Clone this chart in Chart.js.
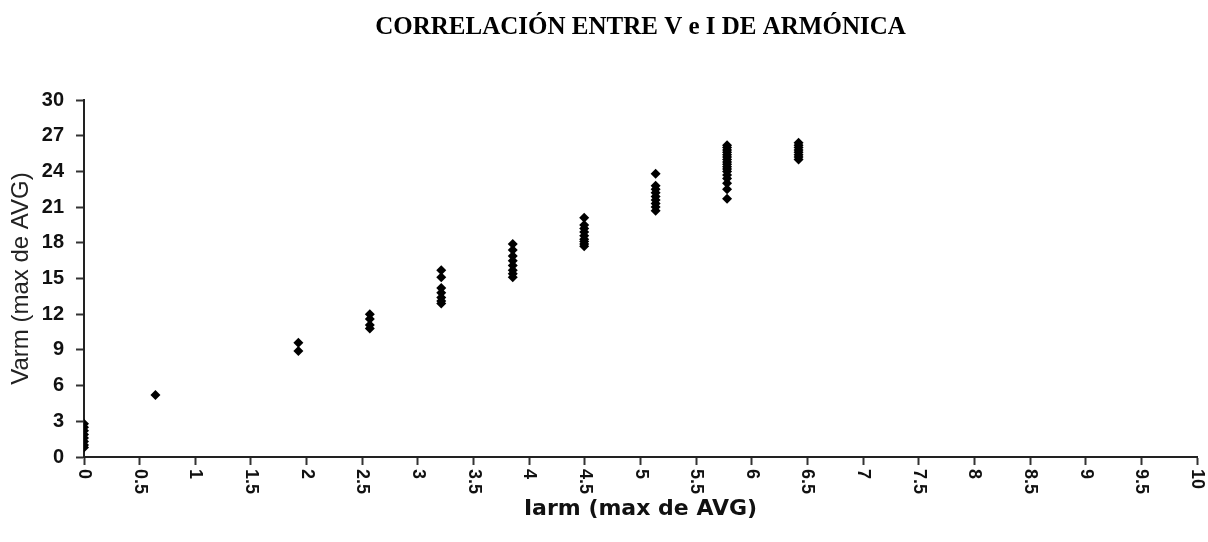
<!DOCTYPE html>
<html>
<head>
<meta charset="utf-8">
<script src="https://cdn.jsdelivr.net/npm/chart.js@4/dist/chart.umd.min.js"></script>
<style>
html,body{margin:0;padding:0;background:#fff;}
#wrap{width:1208px;height:542px;}
</style>
</head>
<body>
<div id="wrap"><canvas id="c" width="1208" height="542"></canvas></div>
<script>
// Iarm levels (x) and the Varm readings measured at each level (y)
const iarmLevels = [0, 0.642, 1.926, 2.568, 3.21, 3.852, 4.494, 5.136, 5.778, 6.42];
const varm0   = [0.8, 1.0, 1.3, 1.6, 1.9, 2.2, 2.5, 2.8];
const varm064 = [5.2];
const varm193 = [9.6, 8.9];
const varm257 = [12.0, 11.6, 11.1, 10.8];
const varm321 = [15.7, 15.1, 14.2, 13.8, 13.4, 13.1, 12.9];
const varm385 = [17.9, 17.4, 16.9, 16.5, 16.1, 15.7, 15.4, 15.1];
const varm449 = [20.1, 19.5, 19.2, 18.9, 18.6, 18.3, 18.1, 17.9, 17.7];
const varm514 = [23.8, 22.8, 22.5, 22.2, 21.9, 21.6, 21.3, 21.0, 20.7];
const varm578 = [26.2, 26.0, 25.8, 25.6, 25.4, 25.2, 25.0, 24.8, 24.6, 24.4, 24.2, 24.0, 23.7, 23.4, 23.0, 22.5, 21.7];
const varm642 = [26.4, 26.2, 26.0, 25.8, 25.6, 25.4, 25.2, 25.0];
const xTickLabels = ['0','0.5','1','1.5','2','2.5','3','3.5','4','4.5','5','5.5','6','6.5','7','7.5','8','8.5','9','9.5','10'];
const yTickValues = [0,3,6,9,12,15,18,21,24,27,30];

const varmColumns = [varm0, varm064, varm193, varm257, varm321, varm385, varm449, varm514, varm578, varm642];
const points = [];
varmColumns.forEach((col, i) => col.forEach(v => points.push({x: iarmLevels[i], y: v})));

const xLabelPlugin = {
  id: 'xLabels',
  afterDraw(chart) {
    const ctx = chart.ctx;
    const xs = chart.scales.x;
    const base = chart.chartArea.bottom;
    ctx.save();
    ctx.font = 'bold 18px "Liberation Sans", Arial, sans-serif';
    ctx.fillStyle = '#111';
    ctx.textAlign = 'left';
    ctx.textBaseline = 'middle';
    xTickLabels.forEach((lab, i) => {
      const px = xs.getPixelForValue(i * 0.5);
      ctx.save();
      ctx.translate(px, base + 12);
      ctx.rotate(Math.PI / 2);
      ctx.fillText(lab, 0, 0);
      ctx.restore();
    });
    ctx.restore();
  }
};

new Chart(document.getElementById('c'), {
  type: 'scatter',
  data: {
    datasets: [{
      data: points,
      pointStyle: 'rectRot',
      pointRadius: 5,
      pointHoverRadius: 5,
      backgroundColor: '#000',
      borderColor: '#000',
      borderWidth: 0
    }]
  },
  options: {
    responsive: false,
    animation: false,
    devicePixelRatio: 1,
    layout: { padding: { left: 0, right: 11, top: 0, bottom: 0 } },
    plugins: {
      legend: { display: false },
      tooltip: { enabled: false },
      title: {
        display: true,
        fullSize: false,
        text: 'CORRELACIÓN ENTRE V e I DE ARMÓNICA',
        color: '#000',
        font: { family: '"Liberation Serif", "Times New Roman", serif', size: 25, weight: 'bold' },
        padding: { top: 13, bottom: 57 }
      }
    },
    scales: {
      x: {
        type: 'linear',
        min: 0, max: 10,
        ticks: { display: false, stepSize: 0.5 },
        grid: { display: true, drawOnChartArea: false, drawTicks: true, tickLength: 8, tickWidth: 2, tickColor: '#333' },
        border: { display: true, color: '#222', width: 2 },
        title: {
          display: true,
          text: 'Iarm (max de AVG)',
          color: '#111',
          font: { family: '"DejaVu Sans", Verdana, sans-serif', size: 22, weight: 'bold' },
          padding: { top: 0, bottom: 20 }
        },
        afterFit(s) { s.height = 85; }
      },
      y: {
        type: 'linear',
        min: 0, max: 30,
        afterBuildTicks(s) { s.ticks = yTickValues.map(v => ({value: v})); },
        ticks: {
          color: '#111',
          padding: 12,
          font: { family: '"Liberation Sans", Arial, sans-serif', size: 20, weight: 'bold' }
        },
        grid: { display: true, drawOnChartArea: false, drawTicks: true, tickLength: 8, tickWidth: 2, tickColor: '#333' },
        border: { display: true, color: '#222', width: 2 },
        title: {
          display: true,
          text: 'Varm (max de AVG)',
          color: '#222',
          font: { family: '"Liberation Sans", Arial, sans-serif', size: 24 },
          padding: { top: 7, bottom: 0 }
        },
        afterFit(s) { s.width = 84; }
      }
    }
  },
  plugins: [xLabelPlugin]
});
</script>
</body>
</html>
